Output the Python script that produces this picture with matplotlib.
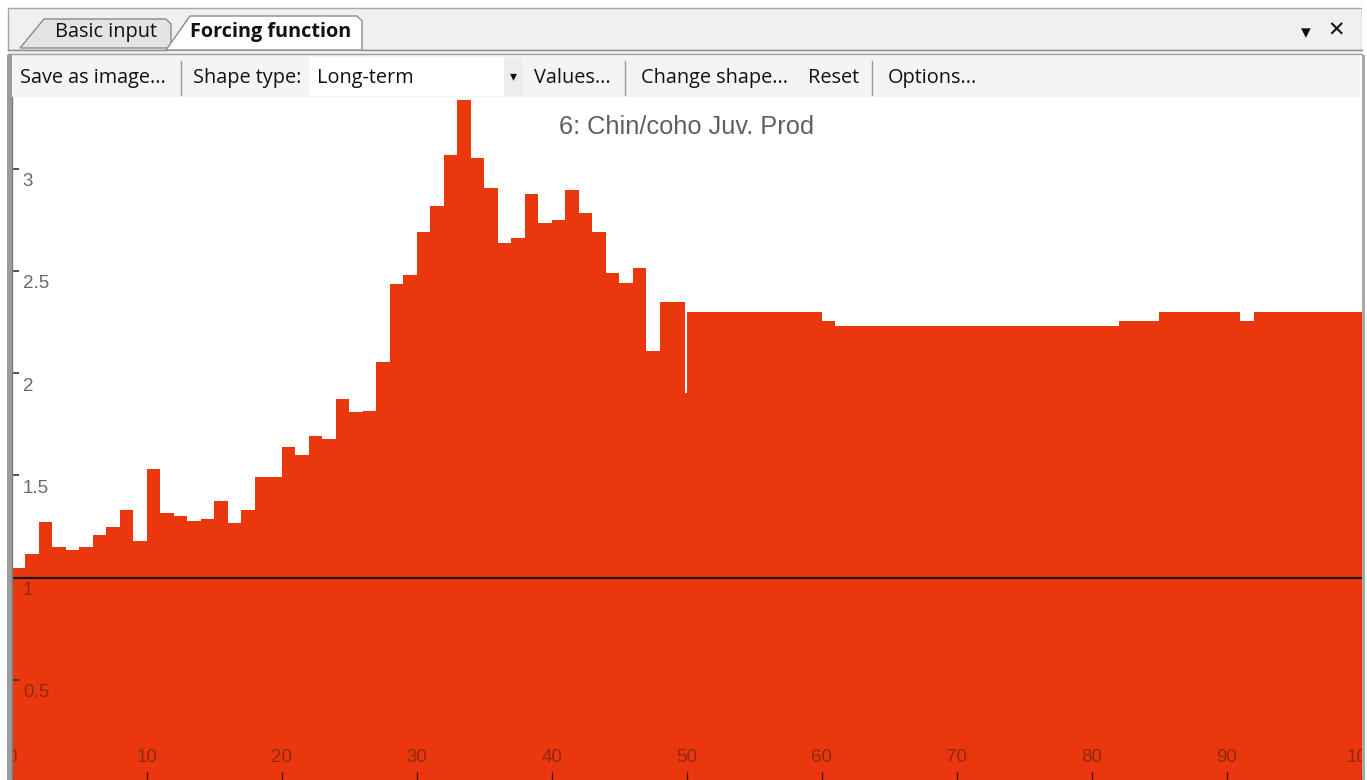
import numpy as np
import matplotlib.pyplot as plt
from matplotlib.patches import Rectangle, Polygon

# forcing function values, one value per year (0..99)
years = np.arange(0, 100)
values = [1.045, 1.113, 1.270, 1.149, 1.134, 1.148, 1.210, 1.245, 1.330, 1.177,
          1.530, 1.314, 1.302, 1.278, 1.288, 1.373, 1.265, 1.330, 1.493, 1.493,
          1.640, 1.600, 1.692, 1.677, 1.873, 1.810, 1.816, 2.055, 2.437, 2.479,
          2.688, 2.815, 3.066, 3.335, 3.050, 2.903, 2.637, 2.662, 2.877, 2.732,
          2.748, 2.893, 2.784, 2.690, 2.487, 2.439, 2.515, 2.109, 2.349, 2.349,
          2.298, 2.298, 2.298, 2.298, 2.298, 2.298, 2.298, 2.298, 2.298, 2.298,
          2.256, 2.231, 2.231, 2.231, 2.231, 2.231, 2.231, 2.231, 2.231, 2.231,
          2.231, 2.231, 2.231, 2.231, 2.231, 2.231, 2.231, 2.231, 2.231, 2.231,
          2.231, 2.231, 2.254, 2.254, 2.254, 2.298, 2.298, 2.298, 2.298, 2.298,
          2.298, 2.256, 2.298, 2.298, 2.298, 2.298, 2.298, 2.298, 2.298, 2.298]
# single-month dip just before year 50
dip_start = 49.85
dip_value = 1.904

title = "6: Chin/coho Juv. Prod"
y_ticks = [0.5, 1, 1.5, 2, 2.5, 3]
y_ticklabels = ["0.5", "1", "1.5", "2", "2.5", "3"]
x_ticks = [0, 10, 20, 30, 40, 50, 60, 70, 80, 90, 100]
x_ticklabels = ["0", "10", "20", "30", "40", "50", "60", "70", "80", "90", "100"]

tabs = ["Basic input", "Forcing function"]
toolbar_items = ["Save as image...", "Shape type:", "Long-term", "Values...",
                 "Change shape...", "Reset", "Options..."]

W, H = 1367, 780
fill_color = "#EB370E"
ui_font = ["Open Sans", "DejaVu Sans"]
ui_size = 14.3

edges = list(years) + [100]
vals = list(values)
edges.insert(50, dip_start)
vals.insert(50, dip_value)

fig = plt.figure(figsize=(W / 100, H / 100), dpi=100)
fig.patch.set_facecolor("white")

# plot area: x 0..100 spans px 11.7..1362, y=1 at px 577.5, 204.5 px per unit
x0_px, x1_px = 11.7, 1362
top_px, bot_px = 97, 782
ax = fig.add_axes([x0_px / W, (H - bot_px) / H, (x1_px - x0_px) / W, (bot_px - top_px) / H])
ax.set_zorder(1)
ax.stairs(vals, edges, fill=True, baseline=0, color=fill_color)
ax.axhline(1, color="#1a1a1a", lw=1.6, zorder=3)
ax.set_xlim(0, 100)
ax.set_ylim(0, 1 + (577.5 - top_px) / 204.5)
for s in ax.spines.values():
    s.set_visible(False)

ax.set_yticks(y_ticks)
ax.set_xticks(x_ticks)
ax.tick_params(axis="y", direction="in", length=5, width=1.2, color="#333333",
               labelleft=False)
ax.tick_params(axis="x", direction="in", length=7.5, width=1, color="#3a1a10",
               labelbottom=False)

for v, lab in zip(y_ticks, y_ticklabels):
    col = "#8F2A10" if v <= 1 else "#6a6a6a"
    ax.annotate(lab, (0, v), xytext=(8, -9.5), textcoords="offset points",
                ha="left", va="center", fontsize=13.5, color=col,
                family="Liberation Sans", zorder=4, annotation_clip=False)
for v, lab in zip(x_ticks, x_ticklabels):
    ax.annotate(lab, (v, 0), xytext=(0, 18), textcoords="offset points",
                ha="center", va="center", fontsize=13.5, color="#8F2A10",
                family="Liberation Sans", zorder=4, annotation_clip=False)

ax.text(0.5, (bot_px - 127) / (bot_px - top_px), title, transform=ax.transAxes,
        ha="center", va="center", fontsize=18.3, color="#606060",
        family="Liberation Sans", zorder=4)

# window chrome drawn in pixel coordinates on a transparent overlay
ui = fig.add_axes([0, 0, 1, 1])
ui.set_zorder(5)
ui.set_xlim(0, W)
ui.set_ylim(H, 0)
ui.axis("off")
ui.patch.set_alpha(0)

ui.add_patch(Rectangle((0, 0), W, 8, facecolor="white", edgecolor="none"))
ui.add_patch(Rectangle((8, 8), 1354, 42, facecolor="#F0F0F0", edgecolor="#A8A8A8", lw=1))
ui.add_patch(Polygon([(20, 48), (44, 19), (166, 19), (171, 24), (171, 48)],
                     facecolor="#E4E4E4", edgecolor="#8C8C8C", lw=1))
ui.add_patch(Polygon([(166, 50), (190, 16), (357, 16), (362, 21), (362, 50)],
                     facecolor="white", edgecolor="#8C8C8C", lw=1))
ui.plot([8, 166], [49.5, 49.5], color="#8C8C8C", lw=1)
ui.plot([362, 1362], [49.5, 49.5], color="#8C8C8C", lw=1)
ui.add_patch(Rectangle((8, 51), 1354, 4, facecolor="#F0F0F0", edgecolor="none"))
ui.plot([8, 1362], [53.5, 53.5], color="#A0A0A0", lw=1)

ui.text(55, 32.5, tabs[0], fontsize=ui_size, family=ui_font, color="#111111", va="center")
ui.text(190, 32.5, tabs[1], fontsize=ui_size, family=ui_font, color="#111111",
        va="center", weight="bold")
ui.text(1306, 33, "\u25BE", fontsize=14, family=ui_font, color="#111111",
        ha="center", va="center")
ui.text(1336, 31, "\u2715", fontsize=15, family=ui_font, color="#111111",
        ha="center", va="center")

# toolbar
ui.add_patch(Rectangle((10, 55), 1350, 42, facecolor="#F3F4F5", edgecolor="none"))
ui.add_patch(Rectangle((309, 57), 195, 39, facecolor="white", edgecolor="none"))
ui.add_patch(Rectangle((504, 57), 19, 39, facecolor="#EDEDED", edgecolor="none"))
for sx in [181, 625, 872]:
    ui.plot([sx, sx], [61, 95], color="#9A9A9A", lw=1)
toolbar_x = [20, 193, 317, 534, 641, 808, 888]
for tx, lab in zip(toolbar_x, toolbar_items):
    ui.text(tx, 78, lab, fontsize=ui_size, family=ui_font, color="#111111", va="center")
ui.text(513, 77, "\u25BE", fontsize=10, family=ui_font, color="#111111",
        ha="center", va="center")

# window borders
ui.add_patch(Rectangle((6.5, 55), 5, H - 55, facecolor="#9C9C9C", edgecolor="none"))
ui.plot([11.5, 11.5], [97, H], color="#7a7a7a", lw=1)
ui.add_patch(Rectangle((0, 8), 6.5, H, facecolor="white", edgecolor="none"))
ui.add_patch(Rectangle((1362, 0), 5, H, facecolor="white", edgecolor="none"))
ui.add_patch(Rectangle((1362, 55), 3, H - 55, facecolor="#A8A8A8", edgecolor="none"))

fig.savefig("out.png", dpi=100)
